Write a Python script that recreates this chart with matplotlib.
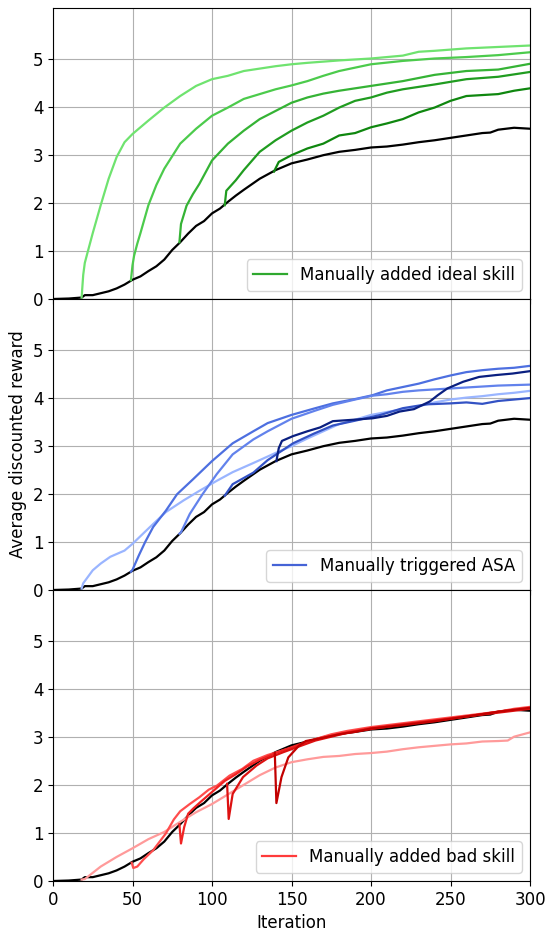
import numpy as np
import matplotlib
matplotlib.use('Agg')
import matplotlib.pyplot as plt
from matplotlib.lines import Line2D

plt.rcParams['font.size'] = 12

# baseline (black) curve, same in every panel
base_x = [0, 10, 18, 20, 25, 30, 35, 40, 45, 50, 55, 60, 65, 70, 75, 80, 85, 90, 95, 100,
          105, 110, 115, 120, 130, 140, 150, 160, 170, 180, 190, 200, 210, 220, 230, 240,
          250, 260, 270, 275, 280, 290, 300]
base_y = [0, 0.01, 0.03, 0.08, 0.08, 0.12, 0.16, 0.22, 0.30, 0.40, 0.47, 0.58, 0.68, 0.82,
          1.02, 1.18, 1.36, 1.52, 1.62, 1.78, 1.88, 2.02, 2.15, 2.27, 2.50, 2.68, 2.82, 2.90,
          2.99, 3.06, 3.10, 3.15, 3.17, 3.21, 3.26, 3.30, 3.35, 3.40, 3.45, 3.46, 3.52, 3.56, 3.54]

# top panel: manually added ideal skill
g1_x = [18, 19, 20, 22, 25, 30, 35, 40, 45, 50, 60, 70, 80, 90, 100, 110, 120, 130, 140,
        150, 160, 180, 200, 220, 230, 240, 260, 280, 300]
g1_y = [0.03, 0.5, 0.75, 1.0, 1.37, 1.95, 2.5, 2.95, 3.26, 3.43, 3.71, 3.98, 4.22, 4.43,
        4.57, 4.64, 4.74, 4.79, 4.84, 4.88, 4.91, 4.96, 5.0, 5.06, 5.14, 5.16, 5.21, 5.24, 5.27]
g2_x = [49, 50, 51, 53, 55, 60, 65, 70, 80, 90, 100, 110, 120, 130, 140, 150, 160, 170,
        180, 190, 200, 220, 240, 260, 280, 300]
g2_y = [0.39, 0.7, 0.9, 1.15, 1.37, 1.95, 2.37, 2.71, 3.23, 3.54, 3.81, 3.98, 4.16, 4.26,
        4.36, 4.44, 4.53, 4.64, 4.74, 4.81, 4.88, 4.95, 5.0, 5.03, 5.07, 5.13]
g3_x = [79.5, 80.5, 84, 88, 92, 100, 110, 120, 130, 140, 150, 160, 170, 180, 200, 220,
        240, 260, 280, 300]
g3_y = [1.18, 1.56, 1.94, 2.18, 2.39, 2.88, 3.23, 3.50, 3.74, 3.91, 4.08, 4.19, 4.27,
        4.33, 4.43, 4.53, 4.66, 4.74, 4.77, 4.89]
g4_x = [108, 109, 115, 120, 130, 140, 150, 160, 170, 180, 190, 200, 210, 220, 240, 260, 280, 300]
g4_y = [1.95, 2.25, 2.47, 2.68, 3.06, 3.30, 3.50, 3.67, 3.81, 3.98, 4.12, 4.19, 4.29,
        4.36, 4.46, 4.57, 4.62, 4.72]
g5_x = [139, 142, 150, 160, 170, 180, 190, 200, 210, 220, 230, 240, 250, 260, 270, 280, 290, 300]
g5_y = [2.65, 2.85, 2.99, 3.13, 3.23, 3.40, 3.45, 3.57, 3.65, 3.74, 3.88, 3.98, 4.12,
        4.22, 4.24, 4.26, 4.33, 4.38]

# middle panel: manually triggered ASA
b1_x = [18, 19, 25, 30, 36, 45, 50, 61, 71, 82, 92, 103, 113, 126, 140, 150, 160, 170,
        180, 190, 200, 210, 220, 230, 240, 250, 260, 270, 280, 290, 300]
b1_y = [0.03, 0.14, 0.41, 0.55, 0.69, 0.82, 0.96, 1.31, 1.62, 1.86, 2.06, 2.27, 2.45,
        2.64, 2.85, 2.99, 3.15, 3.3, 3.45, 3.54, 3.64, 3.70, 3.76, 3.82, 3.90, 3.96, 4.0,
        4.03, 4.07, 4.10, 4.14]
b2_x = [49, 50, 54, 58, 63, 71, 78, 88, 100, 113, 126, 135, 150, 165, 176, 190, 201,
        210, 220, 230, 240, 250, 260, 270, 280, 290, 300]
b2_y = [0.38, 0.42, 0.72, 1.0, 1.31, 1.65, 1.99, 2.3, 2.68, 3.05, 3.30, 3.47, 3.64, 3.78,
        3.88, 3.97, 4.05, 4.15, 4.22, 4.29, 4.38, 4.46, 4.53, 4.57, 4.60, 4.62, 4.66]
b3_x = [79.5, 80.5, 86, 94, 103, 113, 126, 135, 150, 165, 176, 190, 201, 210, 220, 230,
        240, 250, 260, 270, 280, 290, 300]
b3_y = [1.17, 1.2, 1.58, 1.99, 2.41, 2.82, 3.13, 3.30, 3.56, 3.73, 3.85, 3.96, 4.04, 4.07,
        4.12, 4.15, 4.17, 4.19, 4.21, 4.23, 4.25, 4.26, 4.27]
b4_x = [108, 113, 126, 135, 151, 164, 176, 190, 206, 220, 235, 250, 260, 270, 280, 290, 300]
b4_y = [1.96, 2.2, 2.44, 2.7, 3.05, 3.25, 3.42, 3.52, 3.64, 3.78, 3.86, 3.88, 3.9, 3.87,
        3.93, 3.96, 3.99]
b5_x = [140.5, 142, 144, 151, 160, 168, 176, 189, 201, 210, 218, 227, 237, 242, 248, 258,
        268, 279, 289, 300]
b5_y = [2.68, 2.95, 3.1, 3.2, 3.3, 3.38, 3.51, 3.54, 3.57, 3.62, 3.71, 3.76, 3.92, 4.05,
        4.19, 4.33, 4.43, 4.47, 4.50, 4.55]

# bottom panel: manually added bad skill
r1_x = [18, 20, 30, 40, 50, 60, 70, 80, 90, 100, 110, 120, 130, 140, 150, 160, 170, 180,
        190, 200, 210, 220, 230, 240, 250, 260, 270, 280, 286, 290, 300]
r1_y = [0.03, 0.04, 0.3, 0.5, 0.68, 0.87, 1.02, 1.23, 1.43, 1.6, 1.8, 2.0, 2.2, 2.36,
        2.47, 2.53, 2.58, 2.6, 2.64, 2.66, 2.69, 2.74, 2.78, 2.81, 2.84, 2.86, 2.9, 2.91,
        2.92, 3.0, 3.09]
r2_x = [49.5, 50.5, 53, 57, 63, 71, 76, 80, 86, 92, 98, 103, 111, 119, 126, 135, 145,
        155, 165, 175, 185, 200, 220, 240, 260, 280, 290, 300]
r2_y = [0.38, 0.27, 0.3, 0.45, 0.64, 0.99, 1.28, 1.45, 1.6, 1.74, 1.9, 1.98, 2.19, 2.33,
        2.5, 2.62, 2.72, 2.82, 2.95, 3.05, 3.12, 3.2, 3.28, 3.36, 3.44, 3.52, 3.58, 3.62]
r3_x = [79.5, 80.5, 82.5, 85, 88, 93, 100, 108, 115, 122, 130, 140, 150, 160, 170, 180,
        190, 200, 220, 240, 260, 280, 300]
r3_y = [1.18, 0.78, 1.12, 1.4, 1.5, 1.65, 1.85, 2.08, 2.22, 2.38, 2.52, 2.66, 2.78, 2.9,
        2.98, 3.06, 3.12, 3.18, 3.26, 3.34, 3.42, 3.52, 3.6]
r4_x = [109.5, 110.5, 113, 119.5, 128, 135, 145, 155, 165, 175, 185, 200, 220, 240, 260, 280, 300]
r4_y = [2.02, 1.29, 1.81, 2.16, 2.4, 2.55, 2.68, 2.8, 2.92, 3.0, 3.08, 3.16, 3.25, 3.33,
        3.42, 3.5, 3.58]
r5_x = [139.5, 140.5, 143.7, 148, 154.6, 159, 170, 180, 190, 200, 220, 240, 260, 280, 300]
r5_y = [2.66, 1.62, 2.16, 2.57, 2.81, 2.91, 2.98, 3.05, 3.1, 3.17, 3.24, 3.32, 3.42, 3.52, 3.6]

panels = [
    ([(g1_x, g1_y), (g2_x, g2_y), (g3_x, g3_y), (g4_x, g4_y), (g5_x, g5_y)],
     ['#6fe36f', '#4ccb4c', '#35b335', '#209c20', '#0f870f'],
     '#2fa82f', 'Manually added ideal skill'),
    ([(b1_x, b1_y), (b2_x, b2_y), (b3_x, b3_y), (b4_x, b4_y), (b5_x, b5_y)],
     ['#9ab5ff', '#4d6fe0', '#6282ec', '#3352c4', '#0a1f80'],
     '#4563d6', 'Manually triggered ASA'),
    ([(r1_x, r1_y), (r2_x, r2_y), (r3_x, r3_y), (r4_x, r4_y), (r5_x, r5_y)],
     ['#ff9a9a', '#ff4d4d', '#f02323', '#dd1111', '#c20000'],
     '#ff3b3b', 'Manually added bad skill'),
]

fig, axs = plt.subplots(3, 1, sharex=True, figsize=(5.45, 9.34), dpi=100)
fig.subplots_adjust(left=53/545, right=530/545, top=1-8/934, bottom=1-881/934, hspace=0)

for ax, (curves, colors, leg_color, leg_label) in zip(axs, panels):
    ax.plot(base_x, base_y, color='k', lw=1.6)
    for (cx, cy), c in zip(curves, colors):
        ax.plot(cx, cy, color=c, lw=1.6)
    ax.grid(True, color='#b0b0b0', lw=0.8)
    ax.set_axisbelow(True)
    ax.set_ylim(0, 6.05)
    ax.set_yticks([0, 1, 2, 3, 4, 5])
    ax.set_xlim(0, 300)
    ax.legend([Line2D([0], [0], color=leg_color, lw=1.6)], [leg_label],
              loc='lower right', fontsize=12)

axs[2].set_xticks([0, 50, 100, 150, 200, 250, 300])
axs[2].set_xlabel('Iteration')
axs[1].set_ylabel('Average discounted reward')

fig.savefig('out.png', dpi=100)
